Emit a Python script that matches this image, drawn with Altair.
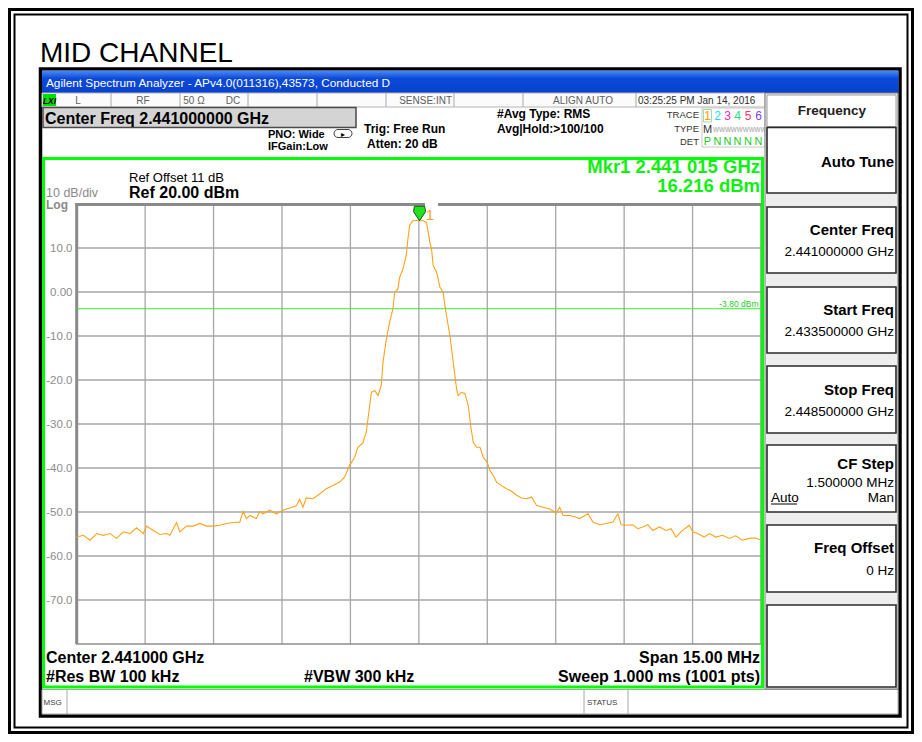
import altair as alt
import pandas as pd

# ---------------- data ----------------
trace_freq_ghz = [
    2.433500, 2.433646, 2.433792, 2.433938, 2.434084, 2.434229, 2.434375, 2.434521,
    2.434667, 2.434813, 2.434959, 2.435032, 2.435178, 2.435324, 2.435469, 2.435542,
    2.435688, 2.435761, 2.435907, 2.436053, 2.436199, 2.436345, 2.436490, 2.436636,
    2.436782, 2.436928, 2.437074, 2.437147, 2.437220, 2.437293, 2.437439, 2.437512,
    2.437585, 2.437731, 2.437877, 2.438022, 2.438168, 2.438314, 2.438387, 2.438460,
    2.438533, 2.438679, 2.438825, 2.438971, 2.439116, 2.439262, 2.439372, 2.439481,
    2.439591, 2.439664, 2.439773, 2.439846, 2.439871, 2.439922, 2.439959, 2.440032,
    2.440105, 2.440177, 2.440214, 2.440287, 2.440359, 2.440432, 2.440469, 2.440542,
    2.440578, 2.440651, 2.440724, 2.440760, 2.440796, 2.440869, 2.441000, 2.441015,
    2.441095, 2.441168, 2.441205, 2.441241, 2.441278, 2.441314, 2.441388, 2.441424,
    2.441461, 2.441534, 2.441571, 2.441607, 2.441680, 2.441717, 2.441753, 2.441790,
    2.441827, 2.441863, 2.441936, 2.442010, 2.442083, 2.442119, 2.442136, 2.442194,
    2.442267, 2.442340, 2.442413, 2.442500, 2.442558, 2.442631, 2.442704, 2.442813,
    2.442922, 2.443032, 2.443141, 2.443250, 2.443359, 2.443469, 2.443578, 2.443724,
    2.443869, 2.444015, 2.444088, 2.444161, 2.444306, 2.444416, 2.444525, 2.444707,
    2.444816, 2.444962, 2.445107, 2.445253, 2.445362, 2.445435, 2.445544, 2.445690,
    2.445799, 2.445909, 2.446018, 2.446127, 2.446273, 2.446418, 2.446528, 2.446637,
    2.446746, 2.446928, 2.447001, 2.447110, 2.447256, 2.447365, 2.447511, 2.447657,
    2.447802, 2.447948, 2.448094, 2.448239, 2.448385, 2.448500,
]
trace_level_dbm = [
    -55.7, -55.3, -56.4, -54.9, -55.3, -54.9, -56.0, -54.5,
    -54.9, -53.6, -54.9, -53.2, -54.2, -55.1, -54.9, -55.3,
    -52.4, -54.5, -53.2, -53.2, -52.6, -53.2, -53.2, -53.0,
    -52.6, -52.4, -52.3, -49.9, -51.5, -50.8, -51.5, -49.9,
    -50.4, -49.6, -50.4, -49.6, -49.1, -48.6, -47.1, -48.9,
    -46.8, -47.0, -45.9, -44.7, -44.0, -43.2, -42.1, -39.4,
    -37.6, -35.3, -34.3, -31.9, -30.0, -25.8, -22.8, -22.4,
    -23.5, -21.2, -16.0, -10.7, -6.9, -3.8, -0.1, 0.7,
    3.3, 5.2, 8.3, 12.0, 15.1, 16.2, 16.3, 16.2,
    16.2, 15.8, 13.6, 11.3, 9.8, 6.0, 4.5, 3.0,
    1.1, -0.1, -3.1, -5.4, -9.9, -12.9, -16.0, -19.0,
    -22.0, -23.5, -22.8, -23.1, -25.8, -28.8, -30.4, -34.2,
    -35.3, -35.3, -37.6, -38.7, -40.6, -41.7, -43.2, -44.0,
    -44.7, -45.3, -46.2, -46.8, -47.0, -46.6, -48.5, -48.9,
    -49.3, -50.2, -48.9, -50.8, -50.8, -51.1, -51.5, -50.4,
    -52.3, -52.9, -52.6, -52.3, -50.4, -52.9, -53.0, -52.9,
    -53.8, -53.4, -52.9, -54.2, -53.4, -54.2, -53.8, -55.7,
    -54.5, -53.0, -54.5, -54.9, -55.7, -54.9, -55.7, -55.3,
    -56.0, -55.4, -56.4, -56.0, -55.9, -56.4,
]
grid_levels = [10, 0, -10, -20, -30, -40, -50, -60, -70]
grid_labels = ["10.0", "0.00", "-10.0", "-20.0", "-30.0", "-40.0", "-50.0", "-60.0", "-70.0"]
grid_freqs = [2.4350, 2.4365, 2.4380, 2.4395, 2.4410, 2.4425, 2.4440, 2.4455, 2.4470]
start_ghz, stop_ghz = 2.4335, 2.4485
ref_dbm, bottom_dbm = 20, -80
display_line_dbm = -3.80
marker_freq_ghz = [2.441015]
marker_level_dbm = [16.216]

trace_df = pd.DataFrame({"freq": trace_freq_ghz, "level": trace_level_dbm})
ylab_df = pd.DataFrame({"level": grid_levels, "label": grid_labels})
vgrid_df = pd.DataFrame({"freq": grid_freqs})
dline_df = pd.DataFrame({"level": [display_line_dbm]})
marker_df = pd.DataFrame({"freq": marker_freq_ghz, "level": marker_level_dbm})

# ---------------- layout helpers (page pixel coords) ----------------
OFF = 8.0
def P(v):
    return v - OFF

FONT = "Liberation Sans"
PL, PR, PT, PB = 76.7, 761.0, 204.0, 644.0

XS = alt.Scale(domain=[start_ghz, stop_ghz], range=[P(PL), P(PR)], nice=False, zero=False)
YS = alt.Scale(domain=[bottom_dbm, ref_dbm], range=[P(PB), P(PT)], nice=False, zero=False)

layers = []

def rect(x1, y1, x2, y2, fill="white", stroke=None, sw=1.0, **kw):
    props = dict(fill=fill, strokeWidth=sw)
    if stroke is not None:
        props["stroke"] = stroke
    props.update(kw)
    layers.append(alt.Chart().mark_rect(**props).encode(
        x=alt.value(P(x1)), x2=alt.value(P(x2)), y=alt.value(P(y1)), y2=alt.value(P(y2))))

def hline(x1, x2, y, color="#a0a0a0", sw=1.0):
    layers.append(alt.Chart().mark_rule(color=color, strokeWidth=sw).encode(
        x=alt.value(P(x1)), x2=alt.value(P(x2)), y=alt.value(P(y))))

def vline(x, y1, y2, color="#a0a0a0", sw=1.0):
    layers.append(alt.Chart().mark_rule(color=color, strokeWidth=sw).encode(
        x=alt.value(P(x)), y=alt.value(P(y1)), y2=alt.value(P(y2))))

def txt(s, x, y, size=12, weight="normal", color="black", align="left", font=FONT, **kw):
    layers.append(alt.Chart().mark_text(text=s, fontSize=size, fontWeight=weight, color=color,
                                        align=align, baseline="alphabetic", font=font, **kw).encode(
        x=alt.value(P(x)), y=alt.value(P(y))))

# ---------------- page frame & title ----------------
rect(9.5, 9.5, 912.5, 732.5, fill="transparent", stroke="black", sw=3)
rect(14.5, 14.5, 907.5, 727.5, fill="transparent", stroke="black", sw=2)
txt("MID CHANNEL", 40, 61.5, size=28)

# ---------------- instrument window ----------------
rect(40.5, 69, 900, 716, fill="white", stroke="black", sw=3.5)
layers.append(alt.Chart().mark_rect(fill=alt.LinearGradient(
    gradient="linear",
    stops=[alt.GradientStop(color="#4f8cf6", offset=0), alt.GradientStop(color="#0c4ad9", offset=0.35),
           alt.GradientStop(color="#0742cc", offset=1)],
    x1=0, x2=0, y1=0, y2=1)).encode(
    x=alt.value(P(42)), x2=alt.value(P(898.5)), y=alt.value(P(70.5)), y2=alt.value(P(93))))
txt("Agilent Spectrum Analyzer - APv4.0(011316),43573, Conducted D", 46, 86.5, size=11.8, color="white")

# status row
rect(42, 93, 765, 107, fill="#fbfbfb", stroke="#b4b4b4", sw=1)
for xv in [111, 180, 248, 317, 386, 454, 523, 636]:
    vline(xv, 93, 107, color="#a8a8a8", sw=1)
rect(43, 94, 56, 106, fill="#00dd00")
txt("LXI", 49.5, 104, size=8.5, weight="bold", align="center", fontStyle="italic")
txt("L", 78, 104, size=10, color="#606060", align="center")
txt("RF", 143, 104, size=10, color="#606060", align="center")
txt("50 Ω", 194, 104, size=10, color="#606060", align="center")
txt("DC", 233, 104, size=10, color="#606060", align="center")
txt("SENSE:INT", 452, 104, size=10, color="#606060", align="right")
txt("ALIGN AUTO", 583, 104, size=10, color="#606060", align="center")
txt("03:25:25 PM Jan 14, 2016", 638, 104, size=10, color="#303030")

# center freq box
rect(43, 107.5, 356, 127.5, fill="#d4d4d4", stroke="#4a4a4a", sw=1.5)
txt("Center Freq 2.441000000 GHz", 45, 123.5, size=16, weight="bold")

# settings text
txt("PNO: Wide", 268, 137.5, size=11, weight="bold")
rect(334, 129.5, 352, 137.5, fill="white", stroke="#404040", sw=1, cornerRadius=4)
txt("▸", 343, 137, size=8, align="center")
txt("IFGain:Low", 268, 149.5, size=11, weight="bold")
txt("Trig: Free Run", 364, 133, size=12, weight="bold")
txt("Atten: 20 dB", 367, 148, size=12, weight="bold")
txt("#Avg Type: RMS", 497, 118, size=12, weight="bold")
txt("Avg|Hold:>100/100", 497, 133, size=12, weight="bold")

# trace table
txt("TRACE", 699, 118, size=9.5, color="#333333", align="right")
txt("TYPE", 699, 132, size=9.5, color="#333333", align="right")
txt("DET", 699, 145, size=9.5, color="#333333", align="right")
rect(702, 108, 765, 147, fill="white", stroke="#c8c8c8", sw=1)
rect(703.5, 109.5, 711.5, 122, fill="transparent", stroke="#a8d8a8", sw=1)
trace_nums = ["1", "2", "3", "4", "5", "6"]
trace_cols = ["#ff9900", "#22ddee", "#ff22cc", "#22dd88", "#ff3366", "#7744ff"]
trace_xs = [707.5, 717.5, 727.5, 737.5, 748, 758.5]
for s, c, xv in zip(trace_nums, trace_cols, trace_xs):
    txt(s, xv, 119.5, size=12, color=c, align="center")
txt("M", 707.5, 132.5, size=11, color="#333333", align="center")
txt("WWWWWWWWW", 713, 131.5, size=6.3, color="#9a9a9a")
for s, xv in zip(["P", "N", "N", "N", "N", "N"], trace_xs):
    txt(s, xv, 145, size=11, color="#22cc22", align="center")

# ---------------- plot area ----------------
txt("Ref Offset 11 dB", 129, 181.5, size=13)
txt("Ref 20.00 dBm", 129, 197.5, size=16, weight="bold")
txt("10 dB/div", 46, 196.5, size=12.5, color="#8a8a8a")
txt("Log", 46, 209, size=12, weight="bold", color="#8a8a8a")
txt("Mkr1 2.441 015 GHz", 760, 173, size=18.5, weight="bold", color="#11ee11", align="right")
txt("16.216 dBm", 760, 192, size=18.5, weight="bold", color="#11ee11", align="right")

# grid (through the data scales)
layers.append(alt.Chart(ylab_df).mark_rule(color="#a6a6a6", strokeWidth=1.3).encode(
    y=alt.Y("level:Q", scale=YS, axis=None), x=alt.value(P(PL)), x2=alt.value(P(PR))))
layers.append(alt.Chart(vgrid_df).mark_rule(color="#a6a6a6", strokeWidth=1.3).encode(
    x=alt.X("freq:Q", scale=XS, axis=None), y=alt.value(P(PT)), y2=alt.value(P(PB))))
layers.append(alt.Chart(ylab_df).mark_text(align="right", baseline="middle", fontSize=11.5,
                                            color="#8c8c8c", font=FONT, dy=1).encode(
    y=alt.Y("level:Q", scale=YS, axis=None), x=alt.value(P(72.5)), text="label:N"))

# plot frame
rect(PL, PT, PR, PB, fill="transparent", stroke="#8e8e8e", sw=1.5)
hline(PL - 1.5, PR, PT + 0.5, color="#8a8a8a", sw=3)
vline(PL, PT, PB, color="#8a8a8a", sw=3)

# display line
layers.append(alt.Chart(dline_df).mark_rule(color="#33ee33", strokeWidth=1).encode(
    y=alt.Y("level:Q", scale=YS, axis=None), x=alt.value(P(PL)), x2=alt.value(P(PR))))
layers.append(alt.Chart(dline_df).mark_text(text="-3.80 dBm", align="right", baseline="alphabetic",
                                             fontSize=8.5, color="#22cc22", font=FONT, dy=-2).encode(
    y=alt.Y("level:Q", scale=YS, axis=None), x=alt.value(P(758.5))))

# trace
layers.append(alt.Chart(trace_df).mark_line(color="#ffa31a", strokeWidth=1.1).encode(
    x=alt.X("freq:Q", scale=XS, axis=None), y=alt.Y("level:Q", scale=YS, axis=None)))

# marker
rect(425, 201.5, 438, 208.5, fill="white")
MARKER_PATH = "M0,0 L-1,-1.5 L-0.85,-2.4 L0.85,-2.4 L1,-1.5 Z"
layers.append(alt.Chart(marker_df).mark_point(shape=MARKER_PATH, size=144, filled=True, fill="#22e022",
                                               stroke="#0b5e0b", strokeWidth=1, opacity=1).encode(
    x=alt.X("freq:Q", scale=XS, axis=None), y=alt.Y("level:Q", scale=YS, axis=None)))
txt("1", 430, 220, size=15, color="#ffa31a", align="center")

# green display border
rect(43.5, 158.5, 762.5, 687, fill="transparent", stroke="#00ff00", sw=3)

# bottom annotations
txt("Center 2.441000 GHz", 46, 662.5, size=16, weight="bold")
txt("Span 15.00 MHz", 760, 662.5, size=16, weight="bold", align="right")
txt("#Res BW 100 kHz", 46, 681.5, size=16, weight="bold")
txt("#VBW 300 kHz", 304, 681.5, size=16, weight="bold")
txt("Sweep  1.000 ms (1001 pts)", 760, 681.5, size=16, weight="bold", align="right")

# message row
rect(42, 689.5, 898, 714, fill="white", stroke="#a8a8a8", sw=1)
vline(67, 689.5, 714, color="#a8a8a8")
vline(584, 689.5, 714, color="#a8a8a8")
vline(628, 689.5, 714, color="#a8a8a8")
txt("MSG", 43.5, 705, size=8, color="#404040")
txt("STATUS", 587, 705, size=8, color="#404040")

# ---------------- softkey panel ----------------
rect(765, 93, 898, 689, fill="#eeeeee", stroke="#7a7a7a", sw=1)
rect(767, 95, 896, 126.5, fill="white", stroke="#9a9a9a", sw=1)
for (y1, y2) in [(127.5, 193), (207, 273), (287, 353), (366, 433), (445, 512), (525, 592), (605, 687)]:
    rect(767, y1, 896, y2, fill="white", stroke="#2a2a2a", sw=1.6)
txt("Frequency", 832, 114.5, size=13.5, weight="bold", color="#222222", align="center")
txt("Auto Tune", 894, 166.5, size=15, weight="bold", align="right")
txt("Center Freq", 894, 235, size=15, weight="bold", align="right")
txt("2.441000000 GHz", 894, 256, size=13.5, align="right")
txt("Start Freq", 894, 315, size=15, weight="bold", align="right")
txt("2.433500000 GHz", 894, 335.5, size=13.5, align="right")
txt("Stop Freq", 894, 395, size=15, weight="bold", align="right")
txt("2.448500000 GHz", 894, 415.5, size=13.5, align="right")
txt("CF Step", 894, 468.5, size=15, weight="bold", align="right")
txt("1.500000 MHz", 894, 487, size=13.5, align="right")
txt("Auto", 771, 502, size=13.5)
hline(771, 797, 504, color="black", sw=1)
txt("Man", 894, 502, size=13.5, align="right")
txt("Freq Offset", 894, 553, size=15, weight="bold", align="right")
txt("0 Hz", 894, 575, size=13.5, align="right")

chart = alt.layer(*layers).properties(
    width=906, height=726,
    autosize=alt.AutoSizeParams(type="none"),
    padding=0,
    background="white",
).configure_view(stroke=None)

chart.save("out.html", embed_options={"renderer": "svg", "actions": False})
